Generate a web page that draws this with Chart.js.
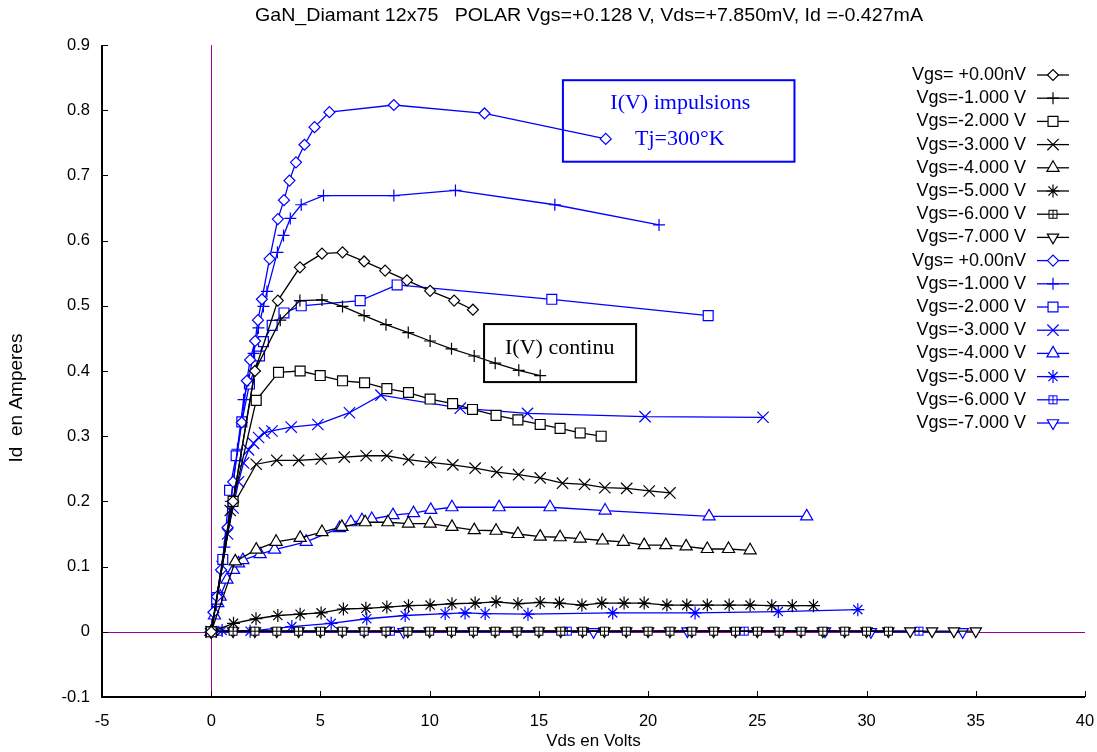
<!DOCTYPE html>
<html>
<head>
<meta charset="utf-8">
<script src="https://cdn.jsdelivr.net/npm/chart.js@4.4.0/dist/chart.umd.min.js"></script>
<style>
  html, body { margin: 0; padding: 0; background: #fff; }
</style>
</head>
<body>
<canvas id="chart" width="1097" height="752"></canvas>
<script>
// Vds (V), Id (A) pairs
// black = I(V) continu, blue = I(V) impulsions
const dc0 = [[0,0],[1,0.2],[2,0.4],[3.05,0.508],[4.06,0.559],[5.07,0.58],[6.01,0.582],[7,0.568],[7.96,0.554],[8.96,0.539],[10.02,0.523],[11.12,0.508],[11.98,0.494]];
const dc1 = [[0,0],[1,0.2],[2,0.4],[3.16,0.478],[4.06,0.508],[5.07,0.509],[6.01,0.499],[7,0.485],[8,0.471],[9.02,0.459],[10.02,0.446],[11,0.434],[12.04,0.423],[13,0.412],[14.08,0.401],[15.06,0.393]];
const dc2 = [[0,0],[1,0.2],[2.06,0.355],[3.08,0.398],[4.07,0.4],[4.99,0.393],[6.01,0.385],[7.02,0.382],[8.04,0.373],[9.03,0.367],[10.02,0.357],[11.05,0.35],[11.96,0.341],[13.04,0.332],[14.04,0.325],[15.06,0.318],[15.97,0.312],[16.89,0.305],[17.85,0.3]];
const dc3 = [[0,0],[0.87,0.186],[2.06,0.257],[3,0.263],[4,0.263],[5.03,0.265],[6.09,0.268],[7.09,0.27],[8.04,0.27],[9.03,0.264],[10.04,0.26],[11.06,0.256],[12.08,0.251],[13.07,0.245],[14.07,0.241],[15.06,0.236],[16.08,0.228],[17.09,0.226],[18.02,0.221],[19.02,0.22],[20.05,0.216],[21,0.213]];
const dc4 = [[0,0],[1.1,0.108],[2.06,0.126],[2.97,0.138],[4.07,0.144],[5.07,0.153],[5.98,0.161],[7.05,0.168],[8.09,0.168],[9.03,0.166],[10.02,0.166],[11.02,0.161],[12.04,0.156],[13.04,0.155],[14.04,0.15],[15.06,0.146],[15.97,0.145],[16.89,0.143],[17.91,0.14],[18.87,0.138],[19.82,0.133],[20.81,0.133],[21.74,0.131],[22.71,0.127],[23.68,0.127],[24.67,0.125]];
const dc5 = [[0,0],[1.02,0.013],[2.05,0.02],[3.05,0.025],[4.07,0.027],[5.03,0.029],[6.05,0.035],[7.08,0.036],[8.04,0.038],[9.03,0.04],[10.02,0.041],[11.02,0.043],[12.08,0.044],[13.04,0.046],[14.04,0.043],[15.06,0.045],[15.94,0.044],[16.97,0.041],[17.88,0.044],[18.9,0.044],[19.82,0.044],[20.86,0.041],[21.77,0.041],[22.71,0.041],[23.71,0.041],[24.67,0.041],[25.66,0.04],[26.6,0.04],[27.57,0.04]];
const dc6 = [[0,0],[1,0.001],[2,0.001],[3,0.001],[4,0.001],[5,0.001],[6,0.001],[7,0.001],[8,0.001],[9,0.001],[10,0.001],[11,0.001],[12,0.001],[13,0.001],[14,0.001],[15,0.001],[16,0.001],[17,0.001],[18,0.001],[19,0.001],[20,0.001],[21,0.001],[22,0.001],[23,0.001],[24,0.001],[25,0.001],[26,0.001],[27,0.001],[28,0.001],[29,0.001],[30,0.001],[31,0.001]];
const dc7 = [[0,0],[1,0.001],[2,0.001],[3,0.001],[4,0.001],[5,0.001],[6,0.001],[7,0.001],[8,0.001],[9,0.001],[10,0.001],[11,0.001],[12,0.001],[13,0.001],[14,0.001],[15,0.001],[16,0.001],[17,0.001],[18,0.001],[19,0.001],[20,0.001],[21,0.001],[22,0.001],[23,0.001],[24,0.001],[25,0.001],[26,0.001],[27,0.001],[28,0.001],[29,0.001],[30,0.001],[31,0.001],[32,0.001],[33,0.001],[34,0.001],[35,0.001]];

const pu0 = [[0,0],[0.1,0.03],[0.26,0.054],[0.45,0.095],[0.75,0.16],[1.0,0.23],[1.4,0.321],[1.63,0.385],[1.78,0.417],[2.01,0.446],[2.14,0.478],[2.32,0.51],[2.67,0.572],[3.05,0.633],[3.33,0.662],[3.58,0.692],[3.88,0.72],[4.27,0.747],[4.73,0.774],[5.41,0.797],[8.36,0.808],[12.51,0.795],[18.06,0.756]];
const pu1 = [[0,0],[0.3,0.06],[0.6,0.13],[0.9,0.2],[1.2,0.28],[1.48,0.356],[1.71,0.386],[1.94,0.427],[2.16,0.466],[2.39,0.499],[2.55,0.522],[3.03,0.582],[3.31,0.608],[3.62,0.634],[4.12,0.655],[5.14,0.669],[8.36,0.669],[11.18,0.677],[15.73,0.655],[20.5,0.624]];
const pu2 = [[0,0],[0.25,0.05],[0.53,0.111],[0.84,0.217],[1.14,0.27],[1.4,0.322],[1.75,0.38],[2.21,0.423],[2.39,0.445],[2.79,0.47],[3.33,0.489],[4.12,0.5],[6.82,0.508],[8.51,0.532],[15.59,0.51],[22.75,0.485]];
const pu3 = [[0,0],[0.25,0.05],[0.5,0.1],[0.75,0.15],[1.0,0.19],[1.25,0.23],[1.48,0.259],[1.71,0.279],[1.94,0.289],[2.17,0.298],[2.44,0.305],[2.78,0.308],[3.66,0.314],[4.88,0.318],[6.33,0.336],[7.77,0.363],[11.4,0.343],[14.48,0.335],[19.86,0.33],[25.26,0.329]];
const pu4 = [[0,0],[0.15,0.025],[0.3,0.044],[0.41,0.054],[0.72,0.08],[1.02,0.095],[1.25,0.105],[1.45,0.11],[2.24,0.119],[2.9,0.126],[4.35,0.138],[5.87,0.159],[6.39,0.168],[6.9,0.171],[7.35,0.173],[8.32,0.179],[9.26,0.182],[10.05,0.187],[11.02,0.191],[13.18,0.191],[15.51,0.191],[18.03,0.186],[22.79,0.177],[27.26,0.177]];
const pu5 = [[0,0],[0.5,0.002],[1.78,0.001],[3.69,0.008],[5.49,0.013],[7.12,0.02],[8.88,0.025],[10.71,0.028],[11.62,0.029],[12.54,0.028],[14.5,0.027],[18.38,0.029],[22.15,0.029],[25.96,0.031],[29.6,0.034]];
const pu6 = [[0,0],[0.3,0.001],[8.2,0.001],[16.3,0.001],[24.4,0.001],[32.4,0.001]];
const pu7 = [[0,0],[8.8,0],[17.5,0],[21.8,0.001],[26,0.001],[28.1,0.001],[30.2,0],[34.4,0]];

const vgsLabels = ['Vgs= +0.00nV', 'Vgs=-1.000 V', 'Vgs=-2.000 V', 'Vgs=-3.000 V',
                   'Vgs=-4.000 V', 'Vgs=-5.000 V', 'Vgs=-6.000 V', 'Vgs=-7.000 V'];
const xTicks = [-5, 0, 5, 10, 15, 20, 25, 30, 35, 40];
const yTicks = [-0.1, 0, 0.1, 0.2, 0.3, 0.4, 0.5, 0.6, 0.7, 0.8, 0.9];

const SANS = '"Liberation Sans", Arial, sans-serif';
const SERIF = '"Liberation Serif", "Times New Roman", serif';

// square with a plus inside, as an image point style
function boxPlus(color) {
  const c = document.createElement('canvas');
  c.width = 11; c.height = 11;
  const g = c.getContext('2d');
  g.fillStyle = '#fff';
  g.fillRect(1, 1, 9, 9);
  g.strokeStyle = color;
  g.lineWidth = 1;
  g.strokeRect(1.5, 1.5, 8, 8);
  g.beginPath();
  g.moveTo(5.5, 1.5); g.lineTo(5.5, 9.5);
  g.moveTo(1.5, 5.5); g.lineTo(9.5, 5.5);
  g.stroke();
  return c;
}

const markers = [
  { pointStyle: 'rectRot', radius: 5.5, rotation: 0 },
  { pointStyle: 'cross', radius: 6, rotation: 0 },
  { pointStyle: 'rect', radius: 7, rotation: 0 },
  { pointStyle: 'crossRot', radius: 8, rotation: 0 },
  { pointStyle: 'triangle', radius: 7, rotation: 0 },
  { pointStyle: 'star', radius: 6.5, rotation: 0 },
  { pointStyle: 'box', radius: 5, rotation: 0 },
  { pointStyle: 'triangle', radius: 6.5, rotation: 180 },
];

function makeSet(label, pairs, color, m) {
  const style = m.pointStyle === 'box' ? boxPlus(color) : m.pointStyle;
  return {
    label: label,
    data: pairs.map(p => ({ x: p[0], y: p[1] })),
    showLine: true,
    borderColor: color,
    backgroundColor: color,
    borderWidth: 1.3,
    pointStyle: style,
    pointRadius: m.radius,
    pointRotation: m.rotation,
    pointBorderColor: color,
    pointBackgroundColor: '#fff',
    pointBorderWidth: 1.2,
  };
}

const dcSets = [dc0, dc1, dc2, dc3, dc4, dc5, dc6, dc7];
const puSets = [pu0, pu1, pu2, pu3, pu4, pu5, pu6, pu7];
const datasets = [];
dcSets.forEach((s, i) => datasets.push(makeSet(vgsLabels[i], s, '#000000', markers[i])));
puSets.forEach((s, i) => datasets.push(makeSet(vgsLabels[i], s, '#0000ff', markers[i])));

// zero lines, frame, inward ticks, boxes, legend, titles
const decorations = {
  id: 'decorations',
  beforeDatasetsDraw(chart) {
    const { ctx, chartArea: a, scales: { x, y } } = chart;
    ctx.save();
    ctx.strokeStyle = '#990099';
    ctx.lineWidth = 1;
    ctx.beginPath();
    const x0 = Math.round(x.getPixelForValue(0)) + 0.5;
    const y0 = Math.round(y.getPixelForValue(0)) + 0.5;
    ctx.moveTo(x0, a.top); ctx.lineTo(x0, a.bottom);
    ctx.moveTo(a.left, y0); ctx.lineTo(a.right, y0);
    ctx.stroke();

    // annotation boxes
    ctx.lineWidth = 2;
    ctx.strokeStyle = '#0000ff';
    const bx1 = x.getPixelForValue(16.1), bx2 = x.getPixelForValue(26.7);
    const by1 = y.getPixelForValue(0.846), by2 = y.getPixelForValue(0.721);
    ctx.strokeRect(bx1, by1, bx2 - bx1, by2 - by1);
    ctx.strokeStyle = '#000000';
    const cx1 = x.getPixelForValue(12.49), cx2 = x.getPixelForValue(19.45);
    const cy1 = y.getPixelForValue(0.472), cy2 = y.getPixelForValue(0.383);
    ctx.strokeRect(cx1, cy1, cx2 - cx1, cy2 - cy1);

    ctx.font = '22px ' + SERIF;
    ctx.textBaseline = 'middle';
    ctx.textAlign = 'left';
    ctx.fillStyle = '#0000ff';
    ctx.fillText('I(V) impulsions', x.getPixelForValue(18.27), y.getPixelForValue(0.811));
    ctx.fillText('Tj=300°K', x.getPixelForValue(19.4), y.getPixelForValue(0.755));
    ctx.fillStyle = '#000000';
    ctx.fillText('I(V) continu', x.getPixelForValue(13.45), y.getPixelForValue(0.435));
    ctx.restore();
  },
  afterDraw(chart) {
    const { ctx, chartArea: a, scales: { x, y } } = chart;
    ctx.save();
    // axes
    ctx.strokeStyle = '#000';
    ctx.lineWidth = 2;
    ctx.beginPath();
    ctx.moveTo(a.left, a.top); ctx.lineTo(a.left, a.bottom); ctx.lineTo(a.right, a.bottom);
    ctx.stroke();
    ctx.lineWidth = 1;
    ctx.beginPath();
    xTicks.forEach(v => {
      const px = Math.round(x.getPixelForValue(v)) + 0.5;
      ctx.moveTo(px, a.bottom); ctx.lineTo(px, a.bottom - 6);
    });
    yTicks.forEach(v => {
      const py = Math.round(y.getPixelForValue(v)) + 0.5;
      ctx.moveTo(a.left, py); ctx.lineTo(a.left + 6, py);
    });
    ctx.stroke();

    // legend
    ctx.font = '18px ' + SANS;
    ctx.textBaseline = 'middle';
    chart.data.datasets.forEach((ds, i) => {
      const ly = 75 + i * 23.2;
      ctx.fillStyle = '#000';
      ctx.textAlign = 'right';
      ctx.fillText(ds.label, 1026, ly);
      ctx.strokeStyle = ds.borderColor;
      ctx.lineWidth = 1.3;
      ctx.beginPath();
      ctx.moveTo(1037, ly); ctx.lineTo(1069, ly);
      ctx.stroke();
      ctx.fillStyle = '#fff';
      ctx.lineWidth = 1.2;
      Chart.helpers.drawPoint(ctx, {
        pointStyle: ds.pointStyle, radius: ds.pointRadius,
        rotation: ds.pointRotation, borderWidth: 1.2
      }, 1053, ly);
    });

    // chart title, stretched to the width it has in the original
    ctx.fillStyle = '#000';
    ctx.textAlign = 'center';
    ctx.font = '19px ' + SANS;
    const title = 'GaN_Diamant 12x75   POLAR Vgs=+0.128 V, Vds=+7.850mV, Id =-0.427mA';
    const w = ctx.measureText(title).width;
    ctx.save();
    ctx.translate(589, 16);
    ctx.scale(668 / w, 1);
    ctx.fillText(title, 0, 0);
    ctx.restore();

    // y axis title
    ctx.save();
    ctx.font = '19px ' + SANS;
    ctx.translate(17, 398);
    ctx.rotate(-Math.PI / 2);
    ctx.fillText('Id  en Amperes', 0, 0);
    ctx.restore();
    ctx.restore();
  }
};

new Chart(document.getElementById('chart'), {
  type: 'scatter',
  data: { datasets: datasets },
  options: {
    responsive: false,
    animation: false,
    layout: { padding: { left: 0, top: 45, right: 12, bottom: 0 } },
    plugins: { legend: { display: false }, title: { display: false }, tooltip: { enabled: false } },
    scales: {
      x: {
        type: 'linear', min: -5, max: 40,
        afterBuildTicks: s => { s.ticks = xTicks.map(v => ({ value: v })); },
        afterFit: s => { s.height = 55; s.paddingLeft = 0; s.paddingRight = 0; },
        grid: { display: false, drawTicks: false },
        border: { display: false },
        ticks: { color: '#000', font: { family: SANS, size: 16.5 }, padding: 15 },
        title: { display: true, text: 'Vds en Volts', color: '#000',
                 font: { family: SANS, size: 17 }, padding: { top: 0, bottom: 0 } },
      },
      y: {
        type: 'linear', min: -0.1, max: 0.9,
        afterBuildTicks: s => { s.ticks = yTicks.map(v => ({ value: v })); },
        afterFit: s => { s.width = 102; },
        grid: { display: false, drawTicks: false },
        border: { display: false },
        ticks: { color: '#000', font: { family: SANS, size: 16.5 }, padding: 12,
                 callback: v => String(Math.round(v * 10) / 10) },
      },
    },
  },
  plugins: [decorations],
});
</script>
</body>
</html>
